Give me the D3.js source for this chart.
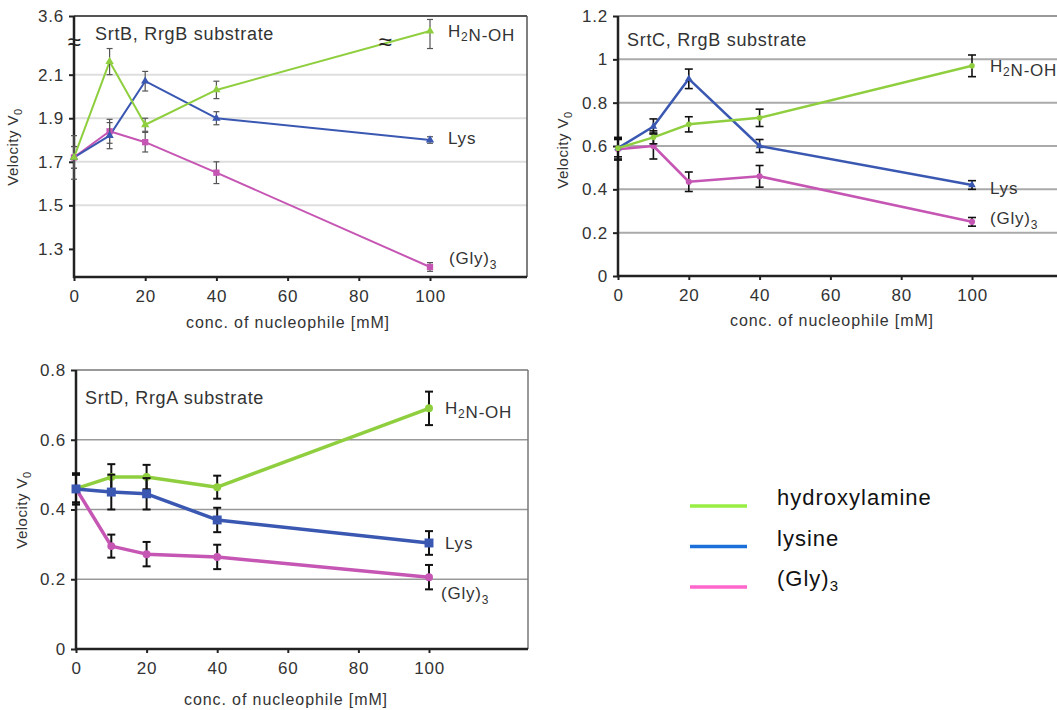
<!DOCTYPE html>
<html><head><meta charset="utf-8">
<script src="https://cdn.jsdelivr.net/npm/d3@7"></script>
<style>body{margin:0;background:#fff}svg{display:block;font-family:"Liberation Sans",Arial,sans-serif}</style>
</head><body>
<svg id="c" width="1057" height="710"></svg>
<script>
// ---- data ----
const conc = [0, 10, 20, 40, 100];
const xTicks = [0, 20, 40, 60, 80, 100];

// SrtB, RrgB substrate (broken y axis)
const srtB_yTicks = [1.3, 1.5, 1.7, 1.9, 2.1, 3.6];
const srtB_hydroxylamine = [1.72, 2.16, 1.87, 2.03, 2.82];
const srtB_hydroxylamine_err = [0.1, 0.06, 0.03, 0.04, 0.6];
const srtB_lysine = [1.72, 1.82, 2.07, 1.90, 1.80];
const srtB_lysine_err = [0.05, 0.06, 0.045, 0.03, 0.015];
const srtB_gly3 = [1.72, 1.84, 1.79, 1.65, 1.217];
const srtB_gly3_err = [0.05, 0.055, 0.045, 0.05, 0.02];

// SrtC, RrgB substrate
const srtC_yTicks = [0, 0.2, 0.4, 0.6, 0.8, 1, 1.2];
const srtC_hydroxylamine = [0.59, 0.64, 0.70, 0.73, 0.97];
const srtC_hydroxylamine_err = [0.05, 0.03, 0.035, 0.04, 0.05];
const srtC_lysine = [0.59, 0.69, 0.91, 0.60, 0.42];
const srtC_lysine_err = [0.04, 0.035, 0.045, 0.03, 0.02];
const srtC_gly3 = [0.585, 0.60, 0.435, 0.46, 0.25];
const srtC_gly3_err = [0.05, 0.06, 0.045, 0.05, 0.02];

// SrtD, RrgA substrate
const srtD_yTicks = [0, 0.2, 0.4, 0.6, 0.8];
const srtD_hydroxylamine = [0.46, 0.493, 0.493, 0.464, 0.69];
const srtD_hydroxylamine_err = [0.04, 0.037, 0.035, 0.033, 0.048];
const srtD_lysine = [0.459, 0.45, 0.445, 0.37, 0.304];
const srtD_lysine_err = [0.045, 0.05, 0.045, 0.035, 0.034];
const srtD_gly3 = [0.46, 0.295, 0.272, 0.264, 0.206];
const srtD_gly3_err = [0.04, 0.033, 0.035, 0.035, 0.035];

const legendNames = ["hydroxylamine", "lysine", "(Gly)3"];
const legendColors = ["#99ee44", "#1a6fd9", "#ff66cc"];
const seriesColors = {h: "#8fcf3f", l: "#3a58b2", g: "#c656b4"};

// ---- drawing ----
const svg = d3.select("#c");

function subText(sel, parts, subSize) {
  parts.forEach(p => {
    if (typeof p === "string") sel.append("tspan").text(p);
    else sel.append("tspan").attr("font-size", subSize).attr("dy", p.dy).text(p.sub);
  });
}

function panel(cfg) {
  const g = svg.append("g");
  const x = cfg.x, y = cfg.y;
  const [yb, yt] = [y.range()[0], y.range()[y.range().length - 1]];
  const x0 = x(0);
  // grid
  g.selectAll(".grid").data(cfg.yTicks.filter(t => t !== cfg.yTicks[0] || cfg.gridAtFirst === true))
    .enter().append("line")
    .attr("x1", x0).attr("x2", cfg.right)
    .attr("y1", d => y(d)).attr("y2", d => y(d))
    .attr("stroke", d => y(d) <= yt + 0.5 ? cfg.frameColor : cfg.gridColor)
    .attr("stroke-width", cfg.gridWidth);
  if (cfg.rightBorder) g.append("line").attr("x1", cfg.right).attr("x2", cfg.right)
    .attr("y1", yt).attr("y2", yb).attr("stroke", cfg.frameColor).attr("stroke-width", 1.5);
  // axes
  const yAxis = d3.axisLeft(y).tickValues(cfg.yTicks).tickSize(5).tickFormat(d => cfg.fmt(d));
  const ya = g.append("g").attr("transform", `translate(${x0},0)`).call(yAxis);
  ya.select(".domain").remove();
  ya.selectAll(".tick line").attr("stroke", "#222").attr("stroke-width", 2);
  ya.selectAll(".tick text").attr("font-size", cfg.fs).attr("fill", "#333").attr("x", -10)
    .attr("font-family", "Liberation Sans, Arial, sans-serif").attr("letter-spacing", cfg.ls);
  const xAxis = d3.axisBottom(x).tickValues(xTicks).tickSize(4).tickFormat(d3.format("d"));
  const xa = g.append("g").attr("transform", `translate(0,${yb})`).call(xAxis);
  xa.select(".domain").remove();
  xa.selectAll(".tick line").attr("stroke", "#222").attr("stroke-width", 2);
  xa.selectAll(".tick text").attr("font-size", cfg.fs).attr("fill", "#333").attr("y", 13)
    .attr("font-family", "Liberation Sans, Arial, sans-serif").attr("letter-spacing", cfg.ls);
  g.append("line").attr("x1", x0).attr("x2", x0).attr("y1", yt).attr("y2", yb + 1)
    .attr("stroke", "#222").attr("stroke-width", cfg.axisWidth);
  g.append("line").attr("x1", x0 - 1).attr("x2", cfg.right).attr("y1", yb).attr("y2", yb)
    .attr("stroke", "#222").attr("stroke-width", cfg.axisWidth);
  // labels
  g.append("text").attr("x", cfg.xlabelX).attr("y", cfg.xlabelY)
    .attr("text-anchor", "middle").attr("font-size", cfg.fs - 1).attr("fill", "#333")
    .attr("letter-spacing", 0.9).text("conc. of nucleophile [mM]");
  const yl = g.append("text").attr("transform", `translate(${cfg.ylabelX},${cfg.ylabelY}) rotate(-90)`)
    .attr("text-anchor", "middle").attr("font-size", cfg.fs - 2).attr("fill", "#333")
    .attr("letter-spacing", 0.5);
  subText(yl, ["Velocity V", {sub: "0", dy: 4}], cfg.fs - 6);
  g.append("text").attr("x", cfg.titleX).attr("y", cfg.titleY).attr("font-size", cfg.titleFs)
    .attr("fill", "#333").attr("letter-spacing", 0.7).text(cfg.title);

  // series
  const line = d3.line().x((d, i) => x(conc[i])).y(d => y(d));
  cfg.series.forEach(s => {
    g.append("path").datum(s.vals).attr("d", line).attr("fill", "none")
      .attr("stroke", seriesColors[s.key]).attr("stroke-width", cfg.lineWidth).attr("stroke-linejoin", "round");
  });
  cfg.series.forEach(s => {
    const col = seriesColors[s.key];
    const eb = g.append("g");
    s.vals.forEach((v, i) => {
      const cx = x(conc[i]);
      const y1 = y(v + s.err[i]), y2 = y(v - s.err[i]);
      eb.append("line").attr("x1", cx).attr("x2", cx).attr("y1", y1).attr("y2", y2)
        .attr("stroke", cfg.errColor).attr("stroke-width", cfg.errWidth);
      [y1, y2].forEach(yy => eb.append("line").attr("x1", cx - cfg.cap).attr("x2", cx + cfg.cap)
        .attr("y1", yy).attr("y2", yy).attr("stroke", cfg.errColor).attr("stroke-width", cfg.errWidth));
    });
    const sym = d3.symbol().type(s.sym).size(s.size);
    g.append("g").selectAll("path").data(s.vals).enter().append("path")
      .attr("transform", (d, i) => `translate(${x(conc[i])},${y(d)})`)
      .attr("d", sym).attr("fill", col);
  });
  // end labels
  cfg.endLabels.forEach(L => {
    const t = g.append("text").attr("x", x(100) + L.dx).attr("y", y(L.v) + L.dy)
      .attr("font-size", cfg.fs).attr("fill", "#333").attr("letter-spacing", cfg.ls);
    subText(t, L.parts, cfg.fs - 5);
  });
  return g;
}

const H2NOH = ["H", {sub: "2", dy: 4}, {sub: "", dy: -4}, "N-OH"];
const GLY3 = ["(Gly)", {sub: "3", dy: 5}];

// Panel A: SrtB
const yA = d3.scaleLinear().domain([1.171, 2.25, 3.6]).range([277, 42, 16]);
const gA = panel({
  x: d3.scaleLinear().domain([0, 100]).range([74, 430]), y: yA, right: 527,
  yTicks: srtB_yTicks, fmt: d3.format(".1f"), fs: 17, ls: 0.8, titleFs: 18,
  gridColor: "#dedede", frameColor: "#555", gridWidth: 2, rightBorder: true, axisWidth: 2.5,
  xlabelX: 288, xlabelY: 328, ylabelX: 18, ylabelY: 147,
  title: "SrtB, RrgB substrate", titleX: 95, titleY: 40,
  lineWidth: 2, errColor: "#555", errWidth: 1.2, cap: 3,
  series: [
    {key: "g", vals: srtB_gly3, err: srtB_gly3_err, sym: d3.symbolSquare, size: 40},
    {key: "l", vals: srtB_lysine, err: srtB_lysine_err, sym: d3.symbolTriangle, size: 30},
    {key: "h", vals: srtB_hydroxylamine, err: srtB_hydroxylamine_err, sym: d3.symbolTriangle, size: 30}
  ],
  endLabels: [
    {v: srtB_hydroxylamine[4], dx: 18, dy: 6, parts: H2NOH},
    {v: srtB_lysine[4], dx: 18, dy: 4, parts: ["Lys"]},
    {v: srtB_gly3[4], dx: 19, dy: -3, parts: GLY3}
  ]
});
[[74, 42], [385, 42]].forEach(p => {
  gA.append("text").attr("x", p[0]).attr("y", p[1] + 8).attr("text-anchor", "middle")
    .attr("font-size", 24).attr("fill", "#222").text("≈");
});

// Panel B: SrtC
panel({
  x: d3.scaleLinear().domain([0, 100]).range([618, 972]), y: d3.scaleLinear().domain([0, 1.2]).range([276, 16]),
  right: 1057, yTicks: srtC_yTicks, fmt: d => d3.format("~g")(d), fs: 17, ls: 0.8, titleFs: 18,
  gridColor: "#aaa", frameColor: "#999", gridWidth: 2, rightBorder: false, axisWidth: 2.5,
  xlabelX: 832, xlabelY: 326, ylabelX: 568, ylabelY: 150,
  title: "SrtC, RrgB substrate", titleX: 627, titleY: 46,
  lineWidth: 2.5, errColor: "#111", errWidth: 1.6, cap: 4,
  series: [
    {key: "g", vals: srtC_gly3, err: srtC_gly3_err, sym: d3.symbolCircle, size: 30},
    {key: "l", vals: srtC_lysine, err: srtC_lysine_err, sym: d3.symbolTriangle, size: 25},
    {key: "h", vals: srtC_hydroxylamine, err: srtC_hydroxylamine_err, sym: d3.symbolCircle, size: 25}
  ],
  endLabels: [
    {v: srtC_hydroxylamine[4], dx: 18, dy: 6, parts: H2NOH},
    {v: srtC_lysine[4], dx: 18, dy: 9, parts: ["Lys"]},
    {v: srtC_gly3[4], dx: 18, dy: 2, parts: GLY3}
  ]
});

// Panel C: SrtD
panel({
  x: d3.scaleLinear().domain([0, 100]).range([76, 429]), y: d3.scaleLinear().domain([0, 0.8]).range([649, 370]),
  right: 528, yTicks: srtD_yTicks, fmt: d => d3.format("~g")(d), fs: 17, ls: 0.8, titleFs: 18,
  gridColor: "#999", frameColor: "#777", gridWidth: 1.5, rightBorder: true, axisWidth: 2.5,
  xlabelX: 286, xlabelY: 705, ylabelX: 27, ylabelY: 510,
  title: "SrtD, RrgA substrate", titleX: 85, titleY: 404,
  lineWidth: 3.5, errColor: "#111", errWidth: 2, cap: 4,
  series: [
    {key: "h", vals: srtD_hydroxylamine, err: srtD_hydroxylamine_err, sym: d3.symbolCircle, size: 50},
    {key: "g", vals: srtD_gly3, err: srtD_gly3_err, sym: d3.symbolCircle, size: 50},
    {key: "l", vals: srtD_lysine, err: srtD_lysine_err, sym: d3.symbolSquare, size: 80}
  ],
  endLabels: [
    {v: srtD_hydroxylamine[4], dx: 16, dy: 6, parts: H2NOH},
    {v: srtD_lysine[4], dx: 16, dy: 6, parts: ["Lys"]},
    {v: srtD_gly3[4], dx: 12, dy: 22, parts: GLY3}
  ]
});

// Legend
const lg = svg.append("g");
const ly = d3.scalePoint().domain(legendNames).range([506, 587]);
legendNames.forEach((n, i) => {
  lg.append("line").attr("x1", 690).attr("x2", 747).attr("y1", ly(n)).attr("y2", ly(n))
    .attr("stroke", legendColors[i]).attr("stroke-width", 3.5);
  const t = lg.append("text").attr("x", 777).attr("y", ly(n) - 1).attr("font-size", 22)
    .attr("fill", "#111").attr("letter-spacing", 1);
  if (n === "(Gly)3") subText(t, ["(Gly)", {sub: "3", dy: 5}], 15);
  else t.text(n);
});
</script>
</body></html>
